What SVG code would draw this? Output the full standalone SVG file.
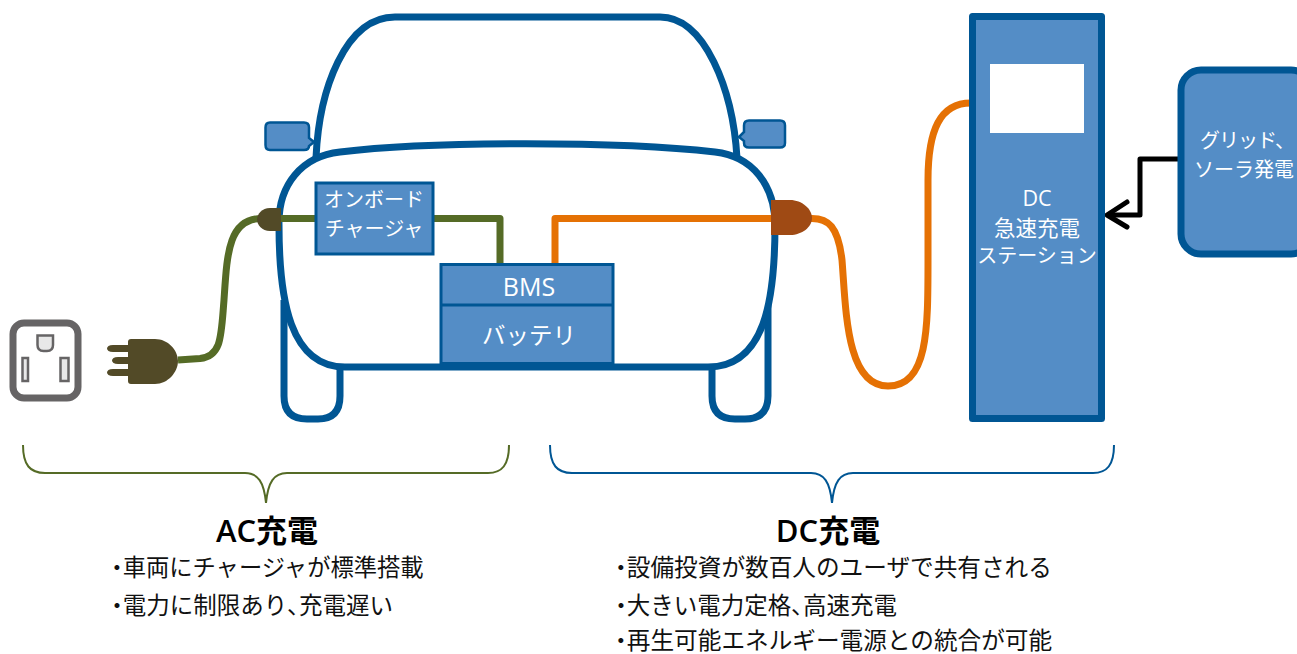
<svg xmlns="http://www.w3.org/2000/svg" width="1297" height="654" viewBox="0 0 1297 654">
<style>
text{font-family:"Open Sans","Noto Sans CJK JP",sans-serif}
.w{fill:#fff;font-size:20px;text-anchor:middle}
.h{fill:#000;font-size:31px;font-weight:600;text-anchor:middle}
.b{fill:#111;font-size:23.500px}
.p{font-feature-settings:"palt"}
.car{fill:none;stroke:#005694;stroke-width:7;stroke-linejoin:round}
.box{fill:#548dc6;stroke:#005694;stroke-width:3}
.plug{fill:#524a27}
</style>
<rect width="1297" height="654" fill="#fff"/>
<g id="car">
<path class="car" d="M316 158C319 90 345 17 395 17H660C705 17 733 90 737 158"/>
<path class="car" d="M284 300V396Q284 419 307 419H318Q340 419 340 396V366"/>
<path class="car" d="M712 366V396Q712 419 735 419H745Q768 419 768 396V300"/>
<path class="box" style="stroke-width:2.500" d="M270 122.500H304Q309 122.500 309 127.500V138L314 142L309 146Q309 150 304 150H270Q265.500 150 265.500 145V127.500Q265.500 122.500 270 122.500Z"/>
<path class="box" style="stroke-width:2.500" d="M780 120.500H749Q744 120.500 744 125.500V132L739 137L744 141V143Q744 147.500 749 147.500H780Q785 147.500 785 143V125.500Q785 120.500 780 120.500Z"/>
<path d="M340 152C430 141 620 141 715 152C752 156 775 185 775 225C775 300 765 367 708 367H345C290 367 279 300 279 225C278 185 302 156 340 152Z" fill="#fff" stroke="#005694" stroke-width="7"/>
</g>
<g id="connectors" fill="none" stroke-linejoin="round">
<path d="M178 360L200 358.500C222 356 221 336 224 300C227 255 228 218 262 218.500H500V264" stroke="#556b26" stroke-width="7"/>
<path d="M555 264V218.500H812C828 218.500 838 226 842 260C846 310 846 386 888 386C928 386 928 330 928 260V180C928 130 940 103 971 103" stroke="#e57104" stroke-width="7"/>
<path d="M1178 159H1140V215H1107" stroke="#000" stroke-width="5"/>
<path d="M1127 202L1107 215L1127 227" stroke="#000" stroke-width="5" stroke-linecap="round"/>
</g>
<g id="car-plug-ac"><path class="plug" d="M281 208V231H270C262 231 257 225 257 219.500C257 214 262 208 270 208Z"/></g>
<g id="car-plug-dc"><path fill="#9f4a14" d="M771 200H790C802 200 812 209 812 218C812 227 802 235 790 235H771Z"/></g>
<g id="onboard-charger">
<rect class="box" x="316" y="183" width="117" height="71"/>
<text class="w" x="374" y="207">オンボード</text>
<text class="w" x="374" y="236">チャージャ</text>
</g>
<g id="bms-battery">
<rect class="box" x="441" y="264.500" width="172" height="99"/>
<path d="M441 305H613" stroke="#005694" stroke-width="3"/>
<text class="w" x="529" y="296" style="font-size:25px">BMS</text>
<text class="w" x="529" y="344" style="font-size:23.500px">バッテリ</text>
</g>
<g id="outlet">
<rect x="13" y="323" width="65" height="75" rx="11" fill="#fff" stroke="#666465" stroke-width="7"/>
<path d="M37.500 335.500H53V345Q53 351 47 351H43.500Q37.500 351 37.500 345Z" fill="#e8e8e8" stroke="#666465" stroke-width="2.500"/>
<rect x="22.500" y="358" width="5.500" height="23" fill="#e8e8e8" stroke="#666465" stroke-width="2.500"/>
<rect x="60.500" y="358" width="8" height="23" fill="#e8e8e8" stroke="#666465" stroke-width="2.500"/>
</g>
<g id="plug">
<path class="plug" d="M131 339H155C168 339 178 350 178 361C178 372 168 384 155 384H131Q128 384 128 381V376H113C105 376 105 369 113 369H128V364H118C110 364 110 357 118 357H128V352H113C105 352 105 345 113 345H128V342Q128 339 131 339Z"/>
</g>
<g id="dc-station">
<rect x="972.500" y="16.500" width="129" height="402" fill="#548dc6" stroke="#005694" stroke-width="7" stroke-linejoin="round"/>
<rect x="990" y="64" width="94" height="69" fill="#fff"/>
<text class="w" x="1037" y="206" style="font-size:21.500px">DC</text>
<text class="w" x="1037" y="236" style="font-size:21.500px">急速充電</text>
<text class="w" x="1037" y="263">ステーション</text>
</g>
<g id="grid-solar">
<rect x="1181" y="70" width="130" height="184" rx="20" fill="#548dc6" stroke="#005694" stroke-width="7"/>
<text class="w" x="1247" y="148" style="letter-spacing:-1px">グリッド、</text>
<text class="w" x="1244" y="177">ソーラ発電</text>
</g>
<g id="braces" fill="none" stroke-width="2">
<path d="M23 445C23 465 30 473 45 473H245C258 473 264 482 266 503C268 482 274 473 287 473H488C502 473 509 465 509 445" stroke="#556b26"/>
<path d="M550 445C550 465 557 473 572 473H811C824 473 830 482 832 503C834 482 840 473 853 473H1093C1107 473 1114 465 1114 445" stroke="#005694"/>
</g>
<g id="ac-text">
<text class="h" x="267" y="542">AC充電</text>
<text class="b" x="111" y="576" style="font-size:23.300px"><tspan class="p">・</tspan><tspan>車両にチャージャが標準搭載</tspan></text>
<text class="b" x="111" y="614"><tspan class="p">・</tspan><tspan>電力に制限あり</tspan><tspan class="p">、</tspan><tspan>充電遅い</tspan></text>
</g>
<g id="dc-text">
<text class="h" x="828" y="542">DC充電</text>
<text class="b" x="615" y="576" style="font-size:23.650px"><tspan class="p">・</tspan><tspan>設備投資が数百人のユーザで共有される</tspan></text>
<text class="b" x="615" y="614"><tspan class="p">・</tspan><tspan>大きい電力定格</tspan><tspan class="p">、</tspan><tspan>高速充電</tspan></text>
<text class="b" x="615" y="649" style="font-size:23.650px"><tspan class="p">・</tspan><tspan>再生可能エネルギー電源との統合が可能</tspan></text>
</g>
</svg>
